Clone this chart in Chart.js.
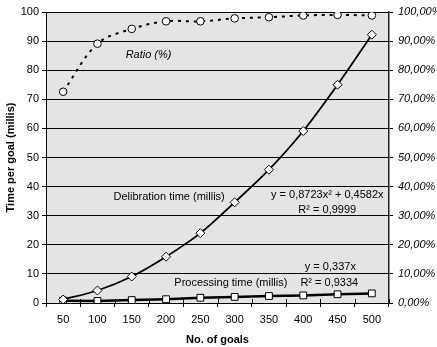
<!DOCTYPE html>
<html>
<head>
<meta charset="utf-8">
<script src="https://cdn.jsdelivr.net/npm/chart.js@4"></script>
<style>
  html, body { margin: 0; padding: 0; background: #fff; }
  #box { width: 437px; height: 347px; }
</style>
</head>
<body>
<div id="box"><canvas id="grafico"></canvas></div>
<script>
// valori
const goals = ["50", "100", "150", "200", "250", "300", "350", "400", "450", "500"];
const deliberation = [1.2, 4.3, 9.1, 15.9, 24.0, 34.6, 45.8, 59.1, 75.0, 92.2];
const processing = [0.8, 0.7, 1.0, 1.3, 1.8, 2.1, 2.4, 2.6, 3.0, 3.3];
const ratio = [72.6, 89.1, 94.2, 96.8, 96.8, 97.8, 98.2, 98.8, 99.0, 98.8];

// testi dentro il grafico: posizione in unita' degli assi (indice categoria, valore)
const notes = [
    { text: "Ratio (%)", x: 2.49, y: 85.2, italic: true },
    { text: "Delibration time (millis)", x: 3.09, y: 36.3 },
    { text: "y = 0,8723x² + 0,4582x", x: 7.7, y: 37.1 },
    { text: "R² = 0,9999", x: 7.7, y: 32.0 },
    { text: "y = 0,337x", x: 7.79, y: 12.5 },
    { text: "Processing time (millis)", x: 4.89, y: 6.8 },
    { text: "R² = 0,9334", x: 7.76, y: 6.8 }
];

const FONT = "'Liberation Sans', Arial, sans-serif";

const sfondo = {
    id: "sfondo",
    beforeDraw(chart) {
        const { ctx, chartArea: a } = chart;
        ctx.save();
        ctx.fillStyle = "#e4e4e4";
        ctx.fillRect(a.left, a.top, a.right - a.left, a.bottom - a.top);
        ctx.restore();
    },
    afterDraw(chart) {
        // tacche dell'asse x che attraversano l'asse
        const { ctx, chartArea: a } = chart;
        const n = goals.length;
        ctx.save();
        ctx.strokeStyle = "#000";
        ctx.lineWidth = 1;
        for (let i = 0; i <= n; i++) {
            const x = Math.round(a.left + i * (a.right - a.left) / n) + 0.5;
            ctx.beginPath();
            ctx.moveTo(x, a.bottom - 4);
            ctx.lineTo(x, a.bottom);
            ctx.stroke();
        }
        // testi
        const sx = chart.scales.x, sy = chart.scales.y;
        ctx.fillStyle = "#000";
        ctx.textAlign = "center";
        ctx.textBaseline = "middle";
        notes.forEach(nt => {
            ctx.font = (nt.italic ? "italic " : "") + "11px " + FONT;
            ctx.fillText(nt.text, sx.getPixelForValue(nt.x), sy.getPixelForValue(nt.y));
        });
        ctx.restore();
    }
};

const ctx = document.getElementById("grafico").getContext("2d");
new Chart(ctx, {
    type: "line",
    data: {
        labels: goals,
        datasets: [
            {
                label: "Delibration time (millis)",
                data: deliberation,
                yAxisID: "y",
                borderColor: "#000",
                borderWidth: 1.8,
                cubicInterpolationMode: "monotone",
                pointStyle: "rectRot",
                pointRadius: 4.5,
                pointBorderWidth: 1,
                pointBackgroundColor: "#fff",
                pointBorderColor: "#000"
            },
            {
                label: "Processing time (millis)",
                data: processing,
                yAxisID: "y",
                borderColor: "#000",
                borderWidth: 2.5,
                tension: 0,
                pointStyle: "rect",
                pointRadius: 4.8,
                pointBorderWidth: 1,
                pointBackgroundColor: "#fff",
                pointBorderColor: "#000"
            },
            {
                label: "Ratio (%)",
                data: ratio,
                yAxisID: "y1",
                borderColor: "#000",
                borderWidth: 2,
                borderDash: [3, 5],
                tension: 0.35,
                pointStyle: "circle",
                pointRadius: 3.8,
                pointBorderWidth: 1,
                pointBackgroundColor: "#fff",
                pointBorderColor: "#000"
            }
        ]
    },
    options: {
        responsive: true,
        maintainAspectRatio: false,
        animation: false,
        layout: { padding: { top: 12, left: 0, right: 0, bottom: 0 } },
        plugins: { legend: { display: false }, tooltip: { enabled: false } },
        scales: {
            x: {
                type: "category",
                offset: true,
                afterFit: s => { s.height = 44; },
                grid: { offset: true, drawOnChartArea: false, color: "#000", tickLength: 4 },
                border: { color: "#000", width: 1 },
                ticks: { color: "#000", font: { family: FONT, size: 11 }, padding: 6, maxRotation: 0 },
                title: {
                    display: true, text: "No. of goals", color: "#000",
                    font: { family: FONT, size: 11, weight: "bold" },
                    padding: { top: 0, bottom: 0 }
                }
            },
            y: {
                position: "left",
                min: 0, max: 100,
                afterFit: s => { s.width = 46; },
                ticks: { stepSize: 10, color: "#000", font: { family: FONT, size: 11 }, padding: 3 },
                grid: { color: "#000", lineWidth: 1, tickLength: 4 },
                border: { color: "#000", width: 1 },
                title: {
                    display: true, text: "Time per goal (millis)", color: "#000",
                    font: { family: FONT, size: 11, weight: "bold" },
                    padding: { top: 4, bottom: 0 }
                }
            },
            y1: {
                position: "right",
                min: 0, max: 100,
                afterFit: s => { s.width = 48; },
                ticks: {
                    stepSize: 10, color: "#000", padding: 5,
                    font: { family: FONT, size: 11, style: "italic" },
                    callback: v => v.toFixed(2).replace(".", ",") + "%"
                },
                grid: { drawOnChartArea: false, color: "#000", tickLength: 4 },
                border: { color: "#222", width: 1.5 }
            }
        }
    },
    plugins: [sfondo]
});
</script>
</body>
</html>
